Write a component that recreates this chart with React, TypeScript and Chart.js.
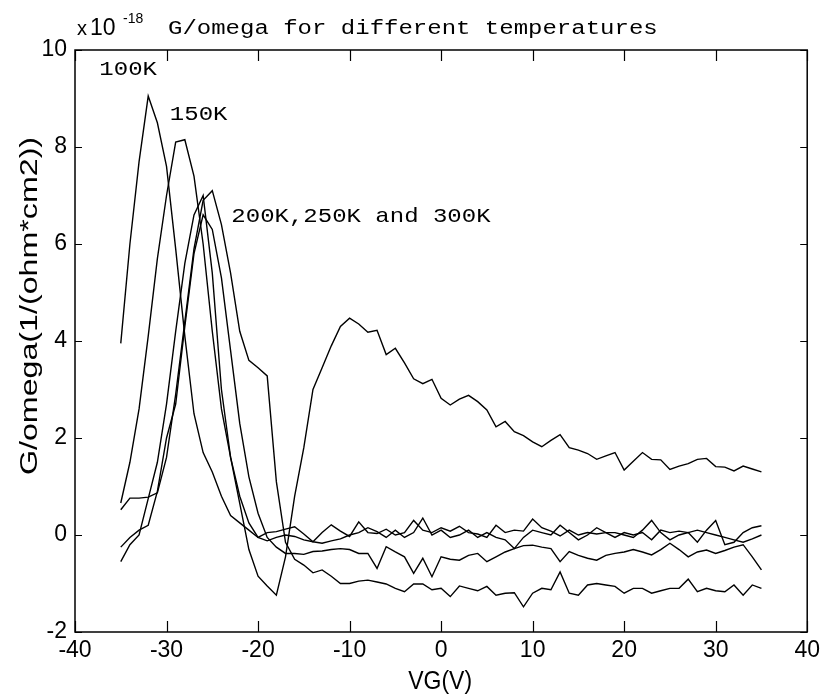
import { useEffect, useRef } from "react";
import { Chart, registerables } from "chart.js";
Chart.register(...registerables);

// gate voltage VG(V)
const vg = [
  -35, -34, -33, -32, -31, -30, -29, -28, -27, -26, -25, -24, -23, -22, -21, -20, -19, -18, -17, -16,
  -15, -14, -13, -12, -11, -10, -9, -8, -7, -6, -5, -4, -3, -2, -1, 0, 1, 2, 3, 4,
  5, 6, 7, 8, 9, 10, 11, 12, 13, 14, 15, 16, 17, 18, 19, 20, 21, 22, 23, 24,
  25, 26, 27, 28, 29, 30, 31, 32, 33, 34, 35,
];

// G/omega in units of 1e-18 1/(ohm*cm2)
const g100K = [
  3.95, 6.0, 7.7, 9.05, 8.5, 7.6, 5.9, 4.1, 2.5, 1.7, 1.3, 0.8, 0.4, 0.25, 0.1, -0.05, 0.05, 0.07, 0.12, 0.17,
  0.02, -0.14, 0.05, 0.21, 0.08, -0.03, 0.27, 0.05, 0.03, 0.12, 0.0, 0.05, 0.3, 0.1, 0.05, 0.15, 0.08, 0.18, 0.05, 0.02,
  -0.05, 0.2, 0.05, 0.1, 0.08, 0.33, 0.15, 0.08, -0.02, 0.1, 0.0, 0.05, 0.02, 0.05, 0.05, 0.0, -0.05, 0.1, 0.3, 0.05,
  -0.1, 0.0, 0.05, -0.15, 0.1, 0.3, -0.2, -0.15, 0.05, 0.15, 0.19,
];
const g150K = [
  0.66, 1.5, 2.6, 4.1, 5.7, 7.0, 8.1, 8.15, 7.4, 6.0, 4.2, 2.6, 1.6, 0.65, -0.3, -0.85, -1.05, -1.24, -0.45, 0.8,
  1.8, 3.0, 3.45, 3.9, 4.3, 4.47, 4.35, 4.18, 4.22, 3.72, 3.85, 3.55, 3.22, 3.12, 3.21, 2.82, 2.68, 2.8, 2.88, 2.75,
  2.58, 2.23, 2.34, 2.13, 2.05, 1.92, 1.82, 1.95, 2.07, 1.8, 1.75, 1.68, 1.56, 1.63, 1.7, 1.34, 1.52, 1.7, 1.56, 1.55,
  1.35, 1.42, 1.47, 1.56, 1.58, 1.41, 1.4, 1.32, 1.42, 1.36, 1.3,
];
const g200K = [
  -0.55, -0.2, 0.0, 0.75, 1.5, 2.7, 4.2, 5.6, 6.6, 7.0, 5.4, 3.0, 1.6, 0.8, 0.25, -0.05, -0.12, -0.05, 0.0, -0.03,
  -0.1, -0.14, -0.17, -0.12, -0.08, 0.0, 0.05, 0.15, 0.07, -0.05, 0.1, -0.05, 0.05, 0.35, 0.0, 0.1, -0.05, 0.0, 0.1, -0.05,
  0.05, -0.05, -0.1, -0.28, -0.05, 0.1, 0.05, 0.0, 0.2, 0.05, -0.1, 0.0, 0.15, 0.05, -0.05, 0.05, 0.0, 0.05, -0.1, 0.1,
  0.05, 0.08, 0.05, 0.1, 0.05, 0.0, -0.05, -0.1, -0.15, -0.08, 0.0,
];
const g250K = [
  -0.25, -0.05, 0.1, 0.2, 0.9, 2.0, 2.7, 4.3, 5.8, 6.6, 6.3, 5.3, 3.8, 2.3, 1.2, 0.45, -0.05, -0.25, -0.38, -0.38,
  -0.4, -0.34, -0.33, -0.3, -0.28, -0.3, -0.38, -0.38, -0.69, -0.24, -0.35, -0.45, -0.79, -0.48, -0.86, -0.45, -0.5, -0.52, -0.42, -0.38,
  -0.55, -0.45, -0.35, -0.28, -0.22, -0.21, -0.25, -0.28, -0.55, -0.34, -0.42, -0.48, -0.52, -0.42, -0.38, -0.35, -0.3, -0.35, -0.41, -0.3,
  -0.17, -0.3, -0.45, -0.35, -0.31, -0.38, -0.32, -0.25, -0.2, -0.45, -0.72,
];
const g300K = [
  0.52, 0.76, 0.76, 0.78, 0.87, 1.6, 2.9, 4.4, 5.9, 6.9, 7.1, 6.4, 5.4, 4.2, 3.6, 3.45, 3.28, 1.1, -0.15, -0.5,
  -0.62, -0.78, -0.72, -0.85, -1.0, -1.0, -0.95, -0.93, -0.97, -1.01, -1.1, -1.17, -1.01, -1.01, -1.13, -1.1, -1.27, -1.05, -1.1, -1.15,
  -1.06, -1.24, -1.2, -1.19, -1.48, -1.2, -1.1, -1.13, -0.76, -1.2, -1.24, -1.03, -1.0, -1.03, -1.06, -1.2, -1.1, -1.1, -1.2, -1.15,
  -1.1, -1.1, -0.91, -1.17, -1.1, -1.15, -1.17, -1.03, -1.24, -1.03, -1.1,
];

const seriesList = [g100K, g150K, g200K, g250K, g300K];

const xTicks = [-40, -30, -20, -10, 0, 10, 20, 30, 40];
const yTicks = [-2, 0, 2, 4, 6, 8, 10];

const titleText = "G/omega for different temperatures";
const xTitle = "VG(V)";
const yTitle = "G/omega(1/(ohm*cm2))";
const notes = [
  { text: "100K", x: -37.34, y: 9.48 },
  { text: "150K", x: -29.64, y: 8.56 },
  { text: "200K,250K and 300K", x: -22.92, y: 6.45 },
];

const SANS = "'Liberation Sans', Arial, Helvetica, sans-serif";
const MONO = "'Liberation Mono', 'Courier New', monospace";

function squishText(ctx: CanvasRenderingContext2D, text: string, x: number, y: number, sy: number) {
  ctx.save();
  ctx.translate(x, y);
  ctx.scale(1, sy);
  ctx.fillText(text, 0, 0);
  ctx.restore();
}

const decorPlugin = {
  id: "decor",
  afterDatasetsDraw(chart: any) {
    const { ctx, chartArea: a, scales } = chart;
    const xs = scales.x;
    const ys = scales.y;
    ctx.save();
    ctx.strokeStyle = "#000";
    ctx.fillStyle = "#000";
    ctx.lineWidth = 1.5;
    ctx.strokeRect(a.left, a.top, a.right - a.left, a.bottom - a.top);
    ctx.lineWidth = 1.2;
    ctx.beginPath();
    for (const t of xTicks) {
      const px = Math.round(xs.getPixelForValue(t)) + 0.5;
      ctx.moveTo(px, a.bottom);
      ctx.lineTo(px, a.bottom - 11);
      ctx.moveTo(px, a.top);
      ctx.lineTo(px, a.top + 11);
    }
    for (const t of yTicks) {
      const py = Math.round(ys.getPixelForValue(t)) + 0.5;
      ctx.moveTo(a.left, py);
      ctx.lineTo(a.left + 7, py);
      ctx.moveTo(a.right, py);
      ctx.lineTo(a.right - 7, py);
    }
    ctx.stroke();

    // exponent multiplier and title
    ctx.textBaseline = "alphabetic";
    ctx.textAlign = "left";
    ctx.font = `20px ${SANS}`;
    ctx.fillText("x", a.left + 2, a.top - 15);
    ctx.font = `23px ${SANS}`;
    ctx.fillText("10", a.left + 15, a.top - 15);
    ctx.font = `14px ${SANS}`;
    ctx.fillText("-18", a.left + 48, a.top - 27);
    ctx.font = `24px ${MONO}`;
    squishText(ctx, titleText, a.left + 93, a.top - 16, 0.88);

    // annotations
    for (const n of notes) {
      squishText(ctx, n.text, xs.getPixelForValue(n.x), ys.getPixelForValue(n.y), 0.85);
    }

    // axis titles
    ctx.font = `23px ${SANS}`;
    ctx.textAlign = "center";
    squishText(ctx, xTitle, (a.left + a.right) / 2 - 1, 689, 1.1);

    ctx.save();
    ctx.translate(37, (a.top + a.bottom) / 2 - 35);
    ctx.rotate(-Math.PI / 2);
    ctx.scale(1.4, 1);
    ctx.fillText(yTitle, 0, 0);
    ctx.restore();
    ctx.restore();
  },
};

export default function App() {
  const ref = useRef<HTMLCanvasElement | null>(null);
  useEffect(() => {
    if (!ref.current) return;
    const chart = new Chart(ref.current, {
      type: "line",
      data: {
        datasets: seriesList.map((s) => ({
          data: vg.map((x, i) => ({ x, y: s[i] })),
          borderColor: "#000",
          borderWidth: 1.4,
          pointRadius: 0,
          tension: 0,
          fill: false,
        })),
      },
      options: {
        responsive: false,
        animation: false,
        layout: { padding: { top: 50, right: 12, left: 0, bottom: 0 } },
        plugins: {
          legend: { display: false },
          tooltip: { enabled: false },
          title: { display: false },
        },
        scales: {
          x: {
            type: "linear",
            min: -40,
            max: 40,
            afterBuildTicks: (s: any) => {
              s.ticks = xTicks.map((v) => ({ value: v }));
            },
            ticks: {
              color: "#000",
              font: { family: SANS, size: 23 },
              padding: 5,
              maxRotation: 0,
              autoSkip: false,
            },
            grid: { display: false, drawTicks: false },
            border: { display: false },
            afterFit: (s: any) => {
              s.height = 64;
            },
          },
          y: {
            type: "linear",
            min: -2,
            max: 10,
            afterBuildTicks: (s: any) => {
              s.ticks = yTicks.map((v) => ({ value: v }));
            },
            ticks: {
              color: "#000",
              font: { family: SANS, size: 23 },
              padding: 8,
              autoSkip: false,
            },
            grid: { display: false, drawTicks: false },
            border: { display: false },
            afterFit: (s: any) => {
              s.width = 75;
            },
          },
        },
      },
      plugins: [decorPlugin],
    } as any);
    return () => chart.destroy();
  }, []);
  return (
    <div style={{ position: "absolute", left: 0, top: 0, width: 825, height: 696, background: "#fff" }}>
      <canvas ref={ref} width={825} height={696} style={{ display: "block" }} />
    </div>
  );
}
